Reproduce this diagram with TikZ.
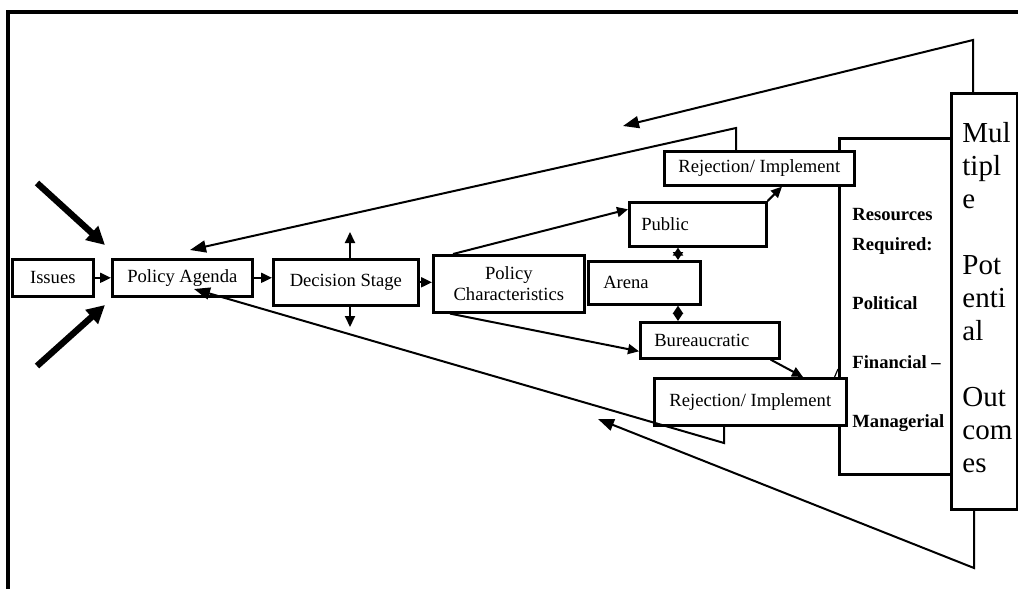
\documentclass[tikz,border=0pt]{standalone}
\usepackage{fontspec}
\setmainfont{Liberation Serif}
\usetikzlibrary{arrows.meta}
\tikzset{
  box/.style={draw,line width=1.3pt,fill=white,anchor=north west,inner sep=0pt,font=\fontsize{9.3}{11}\selectfont},
  lbox/.style={box,align=left},
  list/.style={anchor=north west,inner sep=0pt,align=left},
  link/.style={line width=1pt,-{Triangle[length=5.5pt,width=5pt]}},
  twolink/.style={line width=1pt,{Triangle[length=4pt,width=5pt]}-{Triangle[length=4pt,width=5pt]}},
  loop/.style={line width=1pt,-{Triangle[length=8pt,width=6pt]}},
  push/.style={line width=3.2pt,-{Triangle[length=9pt,width=9pt]}}
}
\begin{document}
\begin{tikzpicture}[x=0.5pt,y=-0.5pt]
\useasboundingbox (0,0) rectangle (1018,589);
\draw[line width=1.8pt] (8,589) -- (8,12) -- (1018,12);

\node[box,minimum width=56pt,minimum height=168pt] (resources) at (838,137) {};
\node[list,font=\bfseries\fontsize{9.3}{15}\selectfont] (reslist) at (852,208) {Resources\\Required:\\[14.5pt]Political\\[14.5pt]Financial –\\[14.5pt]Managerial};
\node[box,minimum width=33pt,minimum height=208pt] (outcomes) at (950,92) {};
\node[list,font=\fontsize{14.5}{16.5}\selectfont] (outlist) at (962,122) {Mul\\tipl\\e\\[16.5pt]Pot\\enti\\al\\[16.5pt]Out\\com\\es};

\node[box,minimum width=40.5pt,minimum height=18.5pt] (issues) at (11,258) {Issues};
\node[box,minimum width=70pt,minimum height=18.5pt] (agenda) at (111,258) {Policy Agenda};
\node[box,minimum width=72.5pt,minimum height=23pt] (decision) at (272,258) {Decision Stage};
\node[box,align=center,minimum width=75.5pt,minimum height=28.5pt,font=\fontsize{9.3}{10.6}\selectfont] (polchar) at (432,254) {Policy\\Characteristics};
\node[lbox,inner xsep=7.5pt,text width=41pt,minimum height=21.5pt] (arena) at (587,260) {Arena};
\node[lbox,inner xsep=6pt,text width=56.5pt,minimum height=22pt] (public) at (628,201) {Public};
\node[lbox,inner xsep=7pt,text width=55.5pt,minimum height=18pt] (bureau) at (639,321) {Bureaucratic};
\node[box,minimum width=95pt,minimum height=17pt] (rejtop) at (663,150) {Rejection/ Implement};
\node[box,minimum width=96pt,minimum height=23.5pt] (rejbot) at (653,377) {Rejection/ Implement};

\coordinate (outtop) at (973,40);
\coordinate (outtoptip) at (623,126);
\coordinate (outbot) at (974,568);
\coordinate (outbottip) at (598,419);
\coordinate (rettop) at (736,128);
\coordinate (retbot) at (724,443);
\coordinate (agtoptip) at (190,250);
\coordinate (agbottip) at (194,289);
\coordinate (decup) at (350,232);
\coordinate (decdown) at (350,327);
\coordinate (pushtop) at (37,183);
\coordinate (pushtoptip) at (105,245);
\coordinate (pushbot) at (37,366);
\coordinate (pushbottip) at (105,305);

\draw[loop] (outcomes.north -| outtop) -- (outtop) -- (outtoptip);
\draw[loop] (outcomes.south -| outbot) -- (outbot) -- (outbottip);
\draw[loop] (rejtop.north -| rettop) -- (rettop) -- (agtoptip);
\draw[loop] (rejbot.south -| retbot) -- (retbot) -- (agbottip);

\draw[push] (pushtop) -- (pushtoptip);
\draw[push] (pushbot) -- (pushbottip);

\draw[link] (issues.east) -- (agenda.west);
\draw[link] (agenda.east) -- (agenda.east -| decision.west);
\draw[link] (decision.east) -- (decision.east -| polchar.west);
\draw[link] (decup |- decision.north) -- (decup);
\draw[link] (decdown |- decision.south) -- (decdown);
\draw[link] ([xshift=10.5pt]polchar.north west) -- ([yshift=7.5pt]public.west);
\draw[link] ([xshift=9pt]polchar.south west) -- ([yshift=-5.5pt]bureau.west);
\draw[twolink] ([xshift=45.5pt]arena.north west) -- ([xshift=45.5pt]arena.north west |- public.south);
\draw[twolink] ([xshift=45.5pt]arena.south west) -- ([xshift=45.5pt]arena.south west |- bureau.north);
\draw[link] (public.north east) -- ([xshift=59.5pt]rejtop.south west);
\draw[link] ([xshift=-5pt]bureau.south east) -- ([xshift=75pt]rejbot.north west);
\draw[line width=0.6pt] ([xshift=-6.5pt]rejbot.north east) -- ([yshift=4pt]rejbot.north -| resources.west);
\end{tikzpicture}
\end{document}
